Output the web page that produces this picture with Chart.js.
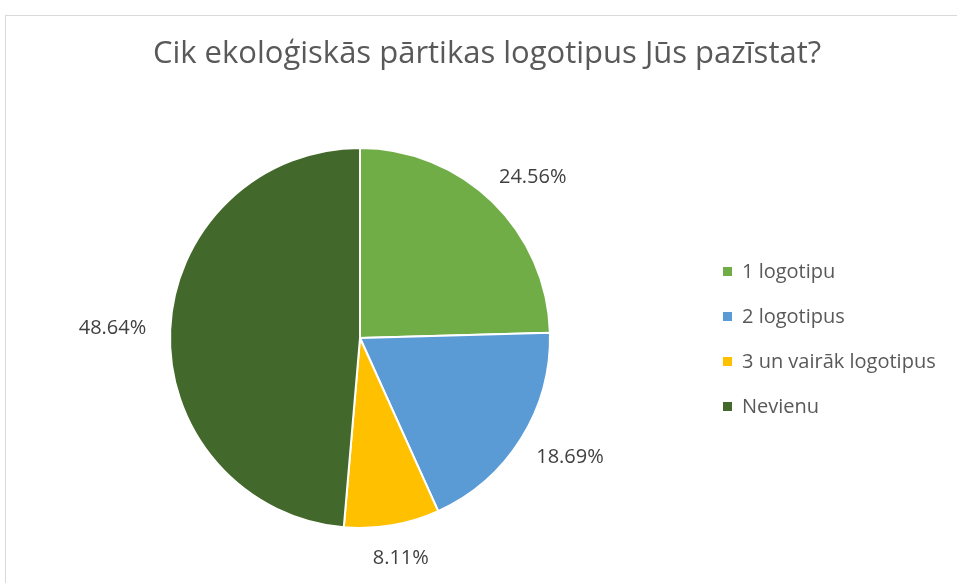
<!DOCTYPE html>
<html>
<head>
<meta charset="utf-8">
<script src="https://cdn.jsdelivr.net/npm/chart.js@4"></script>
<style>
  html, body { margin: 0; padding: 0; background: #fff; }
  #wrap { position: relative; width: 957px; height: 583px; overflow: hidden; }
  #frame { position: absolute; left: 5px; top: 15px; width: 970px; height: 600px;
           border: 1px solid #d9d9d9; pointer-events: none; }
  canvas { position: absolute; left: 0; top: 0; }
</style>
</head>
<body>
<div id="wrap">
  <canvas id="canvas" width="957" height="583"></canvas>
  <div id="frame"></div>
</div>
<script>
var TITLE = "Cik ekoloģiskās pārtikas logotipus Jūs pazīstat?";
var CATEGORIES = [ "1 logotipu", "2 logotipus", "3 un vairāk logotipus", "Nevienu" ];
var SHARES = [ 24.56, 18.69, 8.11, 48.64 ];
var COLORS = [ "#70AD47", "#5B9BD5", "#FFC000", "#43682B" ];

var FONT = '"Open Sans", "Noto Sans", sans-serif';

// title, legend and outside labels, drawn from the chart's own arcs
var decor = {
	id : 'decor',
	afterDraw : function(chart) {
		var ctx = chart.ctx;
		var meta = chart.getDatasetMeta(0);
		ctx.save();

		ctx.font = '31px ' + FONT;
		ctx.fillStyle = '#595959';
		ctx.textAlign = 'center';
		ctx.textBaseline = 'alphabetic';
		ctx.fillText(TITLE, 487, 63);

		ctx.textBaseline = 'middle';
		ctx.font = '20px ' + FONT;
		ctx.fillStyle = '#404040';
		meta.data.forEach(function(arc, i) {
			var p = arc.getProps([ 'x', 'y', 'startAngle', 'endAngle', 'outerRadius' ], true);
			var mid = (p.startAngle + p.endAngle) / 2;
			var c = Math.cos(mid), s = Math.sin(mid);
			var text = chart.data.datasets[0].data[i].toFixed(2) + '%';
			var hw = ctx.measureText(text).width / 2, hh = 10;
			var r = p.outerRadius + 24;
			ctx.fillText(text, p.x + c * r + c * hw, p.y + s * r + s * hh);
		});

		ctx.textAlign = 'left';
		ctx.textBaseline = 'alphabetic';
		chart.data.labels.forEach(function(lab, i) {
			var y = 271 + i * 45;
			ctx.fillStyle = chart.data.datasets[0].backgroundColor[i];
			ctx.fillRect(723, y - 4, 9, 9);
			ctx.fillStyle = '#595959';
			ctx.fillText(lab, 742, y + 7);
		});
		ctx.restore();
	}
};

window.onload = function() {
	var ctx = document.getElementById("canvas").getContext("2d");
	window.myPie = new Chart(ctx, {
		type : 'pie',
		data : {
			labels : CATEGORIES,
			datasets : [ {
				data : SHARES,
				backgroundColor : COLORS,
				borderColor : '#ffffff',
				borderWidth : 2
			} ]
		},
		options : {
			responsive : false,
			animation : false,
			layout : {
				padding : { top : 147, bottom : 54, left : 169, right : 406 }
			},
			plugins : {
				legend : { display : false },
				title : { display : false },
				tooltip : { enabled : false }
			}
		},
		plugins : [ decor ]
	});
};
</script>
</body>
</html>
